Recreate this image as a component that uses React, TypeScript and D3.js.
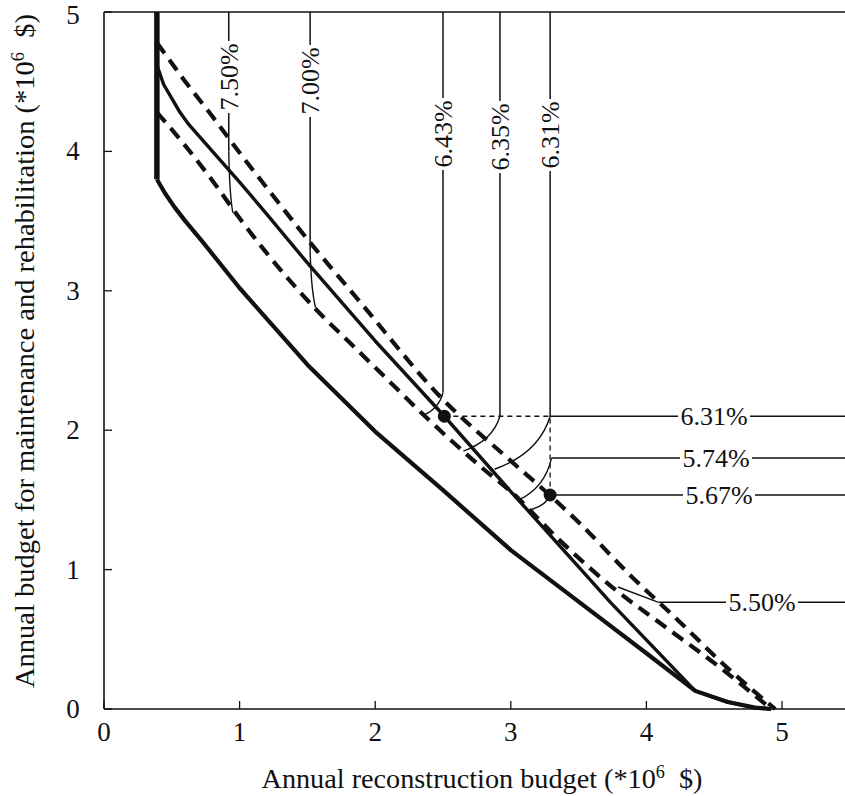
import React from 'react';
import * as d3 from 'd3';

// Budget trade-off curves: annual reconstruction budget (x, 10^6 $)
// against annual maintenance & rehabilitation budget (y, 10^6 $)
const lowerSolidX = [0.39, 0.45, 0.52, 0.6, 0.72, 1.0, 1.5, 2.0, 2.5, 3.0, 3.5, 4.0, 4.36, 4.6, 4.8, 4.92];
const lowerSolidY = [3.8, 3.7, 3.6, 3.5, 3.36, 3.02, 2.47, 1.99, 1.57, 1.14, 0.77, 0.4, 0.13, 0.05, 0.01, 0.0];

const middleSolidX = [0.39, 0.44, 0.5, 0.56, 0.62, 0.8, 1.0, 1.2, 1.5, 2.0, 2.51, 3.0, 3.5, 3.74, 4.36, 4.6, 4.8, 4.92];
const middleSolidY = [4.62, 4.48, 4.38, 4.28, 4.2, 4.0, 3.78, 3.55, 3.2, 2.64, 2.1, 1.56, 1.02, 0.76, 0.13, 0.05, 0.01, 0.0];

const upperDashedX = [0.39, 0.6, 0.8, 1.0, 1.2, 1.5, 1.88, 2.49, 3.0, 3.28, 3.5, 3.87, 4.24, 4.58, 4.95];
const upperDashedY = [4.78, 4.5, 4.25, 3.99, 3.74, 3.37, 2.93, 2.23, 1.78, 1.54, 1.34, 0.97, 0.63, 0.31, 0.0];

const lowerDashedX = [0.39, 0.6, 0.8, 1.0, 1.2, 1.4, 1.6, 1.8, 2.0, 2.4, 2.8, 3.0, 3.35, 3.74, 4.11, 4.58, 4.92];
const lowerDashedY = [4.28, 4.04, 3.79, 3.52, 3.27, 3.04, 2.83, 2.64, 2.45, 2.07, 1.72, 1.56, 1.22, 0.88, 0.61, 0.27, 0.0];

// Minimum reconstruction budget stem
const stemX = 0.39;
const stemY = [3.8, 5];

const xTicks = [0, 1, 2, 3, 4, 5];
const yTicks = [0, 1, 2, 3, 4, 5];

// Rates labelled along the top, with their leader lines
const topRates = ['7.50%', '7.00%', '6.43%', '6.35%', '6.31%'];
const topLeaderX = [0.92, 1.52, 2.5, 2.92, 3.29];
const topLeaderBendY = [4.0, 3.29, 2.27, 2.1, 2.1];
const topLeaderEndX = [0.95, 1.56, 2.36, 2.65, 2.88];
const topLeaderEndY = [3.56, 2.88, 2.11, 1.85, 1.72];

// Rates labelled on the right, with their leader lines
const sideRates = ['6.31%', '5.74%', '5.67%', '5.50%'];
const sideLeaderY = [2.1, 1.8, 1.535, 0.765];
const sideLeaderX = [3.29, 3.3, 3.29, 4.09];
const sideLeaderEndX = [NaN, 3.06, 3.15, 3.79];
const sideLeaderEndY = [NaN, 1.5, 1.43, 0.875];

// Marked optimum points
const optimumX = [2.51, 3.29];
const optimumY = [2.1, 1.535];

const FONT = 'Liberation Serif';
const INK = '#111';

export default function App() {
  const W = 845;
  const H = 796;
  const x = d3.scaleLinear().domain([0, 5]).range([104, 782]);
  const y = d3.scaleLinear().domain([0, 5]).range([709, 12]);

  const zip = (xs: number[], ys: number[]) => xs.map((v, i) => [v, ys[i]] as [number, number]);
  const smooth = d3
    .line<[number, number]>()
    .x((d) => x(d[0]))
    .y((d) => y(d[1]))
    .curve(d3.curveMonotoneX);
  const straight = d3
    .line<[number, number]>()
    .x((d) => x(d[0]))
    .y((d) => y(d[1]))
    .curve(d3.curveLinear);

  const leader = (x0: number, y0: number, x1: number, y1: number) => {
    const p = d3.path();
    p.moveTo(x0, y0);
    p.quadraticCurveTo(x0 + 0.2 * (x1 - x0), y0 + 0.7 * (y1 - y0), x1, y1);
    return p.toString();
  };

  // label box centres (pixels)
  const topLabelCY = [77, 81, 134, 137, 135];
  const sideLabelCX = [714, 716, 719, 762];
  const labelW = 72;
  const labelH = 30;
  const labelSize = 26;

  return (
    <svg width={W} height={H} style={{ position: 'absolute', left: 0, top: 0 }}>
      <style>{`.serif-text { font-family: "Liberation Serif", serif !important; }`}</style>
      <rect x={0} y={0} width={W} height={H} fill="#fff" />

      {/* frame */}
      <line x1={x(0)} x2={x(0)} y1={y(5)} y2={y(0)} stroke={INK} strokeWidth={1.6} />
      <line x1={x(0)} x2={W} y1={y(0)} y2={y(0)} stroke={INK} strokeWidth={1.6} />
      <line x1={x(0)} x2={W} y1={y(5)} y2={y(5)} stroke={INK} strokeWidth={1.6} />

      {/* ticks */}
      {xTicks.map((t) => (
        <g key={`xt${t}`}>
          <line x1={x(t)} x2={x(t)} y1={y(0)} y2={y(0) - 8} stroke={INK} strokeWidth={1.3} />
          <text
            className="serif-text"
            x={x(t)}
            y={y(0) + 32}
            textAnchor="middle"
            style={{ fontFamily: FONT }}
            fontSize={27}
            fill={INK}
          >
            {t}
          </text>
        </g>
      ))}
      {yTicks.map((t) => (
        <g key={`yt${t}`}>
          <line x1={x(0)} x2={x(0) + 8} y1={y(t)} y2={y(t)} stroke={INK} strokeWidth={1.3} />
          <text
            className="serif-text"
            x={73}
            y={Math.max(y(t) + 9, 24)}
            textAnchor="middle"
            style={{ fontFamily: FONT }}
            fontSize={27}
            fill={INK}
          >
            {t}
          </text>
        </g>
      ))}

      {/* axis titles */}
      <text
        className="serif-text"
        x={482}
        y={788}
        textAnchor="middle"
        style={{ fontFamily: FONT }}
        fontSize={28}
        fill={INK}
        textLength={441}
        lengthAdjust="spacingAndGlyphs"
      >
        Annual reconstruction budget (*10
        <tspan fontSize={18} dy={-10}>6</tspan>
        <tspan dy={10}>{'\u00a0\u00a0$)'}</tspan>
      </text>
      <text
        className="serif-text"
        transform={`translate(34, 351) rotate(-90)`}
        textAnchor="middle"
        style={{ fontFamily: FONT }}
        fontSize={28}
        fill={INK}
        textLength={674}
        lengthAdjust="spacingAndGlyphs"
      >
        Annual budget for maintenance and rehabilitation (*10
        <tspan fontSize={18} dy={-10}>6</tspan>
        <tspan dy={10}>{'\u00a0\u00a0$)'}</tspan>
      </text>

      {/* curves */}
      <line
        x1={x(stemX)}
        x2={x(stemX)}
        y1={y(stemY[0])}
        y2={y(stemY[1])}
        stroke={INK}
        strokeWidth={5.5}
      />
      <path
        d={straight(zip(lowerSolidX, lowerSolidY)) || ''}
        fill="none"
        stroke={INK}
        strokeWidth={4.2}
        strokeLinejoin="round"
      />
      <path
        d={straight(zip(middleSolidX, middleSolidY)) || ''}
        fill="none"
        stroke={INK}
        strokeWidth={3.4}
        strokeLinejoin="round"
      />
      <path
        d={smooth(zip(upperDashedX, upperDashedY)) || ''}
        fill="none"
        stroke={INK}
        strokeWidth={4.2}
        strokeDasharray="13 8"
      />
      <path
        d={smooth(zip(lowerDashedX, lowerDashedY)) || ''}
        fill="none"
        stroke={INK}
        strokeWidth={4.2}
        strokeDasharray="13 8"
      />

      {/* guide between the optimum points */}
      <path
        d={`M${x(optimumX[0])},${y(optimumY[0])}H${x(optimumX[1])}V${y(optimumY[1])}`}
        fill="none"
        stroke={INK}
        strokeWidth={1.3}
        strokeDasharray="5 4"
      />

      {/* top leaders and labels */}
      {topRates.map((r, i) => {
        const lx = x(topLeaderX[i]);
        const by = y(topLeaderBendY[i]);
        const cy = topLabelCY[i];
        return (
          <g key={`top${i}`}>
            <line x1={lx} x2={lx} y1={y(5)} y2={by} stroke={INK} strokeWidth={1.5} />
            <path
              d={leader(lx, by, x(topLeaderEndX[i]), y(topLeaderEndY[i]))}
              fill="none"
              stroke={INK}
              strokeWidth={1.4}
            />
            <rect x={lx - labelH / 2} y={cy - labelW / 2} width={labelH} height={labelW} fill="#fff" />
            <text
              className="serif-text"
              transform={`translate(${lx + 9}, ${cy}) rotate(-90)`}
              textAnchor="middle"
              style={{ fontFamily: FONT }}
              fontSize={labelSize}
              fill={INK}
            >
              {r}
            </text>
          </g>
        );
      })}

      {/* side leaders and labels */}
      {sideRates.map((r, i) => {
        const ly = y(sideLeaderY[i]);
        const lx = x(sideLeaderX[i]);
        const cx = sideLabelCX[i];
        const hasEnd = !Number.isNaN(sideLeaderEndX[i]);
        return (
          <g key={`side${i}`}>
            <line x1={lx} x2={W} y1={ly} y2={ly} stroke={INK} strokeWidth={1.5} />
            {hasEnd && (
              <path
                d={
                  i === 3
                    ? `M${lx},${ly}L${x(sideLeaderEndX[i])},${y(sideLeaderEndY[i])}`
                    : leader(lx, ly, x(sideLeaderEndX[i]), y(sideLeaderEndY[i]))
                }
                fill="none"
                stroke={INK}
                strokeWidth={1.4}
              />
            )}
            <rect x={cx - labelW / 2} y={ly - labelH / 2} width={labelW} height={labelH} fill="#fff" />
            <text
              className="serif-text"
              x={cx}
              y={ly + 9}
              textAnchor="middle"
              style={{ fontFamily: FONT }}
              fontSize={labelSize}
              fill={INK}
            >
              {r}
            </text>
          </g>
        );
      })}

      {/* optimum markers */}
      {optimumX.map((v, i) => (
        <circle key={`opt${i}`} cx={x(v)} cy={y(optimumY[i])} r={6.5} fill={INK} />
      ))}
    </svg>
  );
}
